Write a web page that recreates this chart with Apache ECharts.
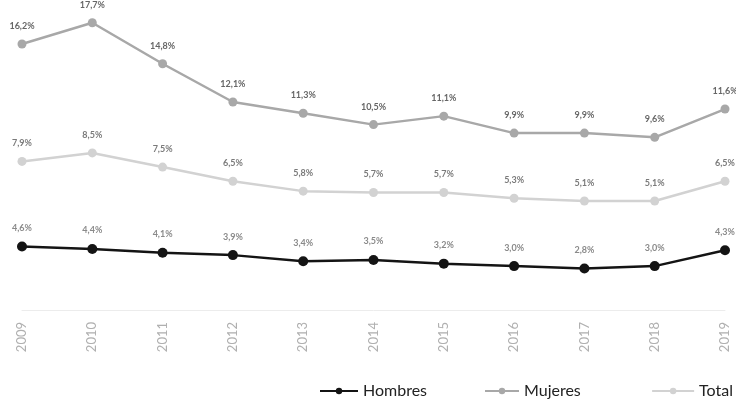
<!DOCTYPE html>
<html>
<head>
<meta charset="utf-8">
<script src="https://cdn.jsdelivr.net/npm/echarts@6/dist/echarts.min.js"></script>
<style>
  html, body { margin: 0; padding: 0; background: #fff; }
  #chart { width: 736px; height: 412px; }
</style>
</head>
<body>
<div id="chart"></div>
<script>
// datos
var years = ['2009','2010','2011','2012','2013','2014','2015','2016','2017','2018','2019'];
var hombres = [4.6, 4.4, 4.1, 3.9, 3.4, 3.5, 3.2, 3.0, 2.8, 3.0, 4.3];
var mujeres = [16.2, 17.7, 14.8, 12.1, 11.3, 10.5, 11.1, 9.9, 9.9, 9.6, 11.6];
var total = [7.9, 8.5, 7.5, 6.5, 5.8, 5.7, 5.7, 5.3, 5.1, 5.1, 6.5];

var chart = echarts.init(document.getElementById('chart'));

function pct(p) {
  return p.value.toFixed(1).replace('.', ',') + '%';
}

function serie(name, data, color, axis, size, labelColor) {
  return {
    name: name,
    type: 'line',
    yAxisIndex: axis,
    data: data,
    symbol: 'circle',
    symbolSize: size,
    lineStyle: { color: color, width: 2.5 },
    itemStyle: { color: color },
    label: {
      show: true,
      position: 'top',
      distance: 9,
      formatter: pct,
      color: labelColor,
      fontSize: 9,
      fontWeight: 'bold',
      fontFamily: 'Lato'
    }
  };
}

function leyenda(name, pos, w) {
  var l = {
    data: [name],
    bottom: 8,
    itemWidth: w,
    itemHeight: 8,
    itemGap: 4,
    textStyle: { color: '#222', fontSize: 16, fontFamily: 'Lato' }
  };
  for (var k in pos) l[k] = pos[k];
  return l;
}

var option = {
  animation: false,
  backgroundColor: '#fff',
  grid: { left: 22, right: 11, top: 10, bottom: 102 },
  legend: [
    leyenda('Hombres', { left: 314 }, 38),
    leyenda('Mujeres', { left: 479 }, 34),
    leyenda('Total', { right: -2 }, 42)
  ],
  xAxis: {
    type: 'category',
    data: years,
    boundaryGap: false,
    axisLine: { onZero: false, lineStyle: { color: '#ececec', width: 1 } },
    axisTick: { show: false },
    axisLabel: {
      rotate: 90,
      margin: 12,
      color: '#b0b0b0',
      fontSize: 13,
      fontFamily: 'Lato'
    }
  },
  yAxis: [
    { type: 'value', min: -2.6, max: 18.6, show: false, splitLine: { show: false } },
    { type: 'value', min: -0.6, max: 24, show: false, splitLine: { show: false } }
  ],
  series: [
    serie('Hombres', hombres, '#141414', 1, 10, '#8a8a8a'),
    serie('Mujeres', mujeres, '#a8a8a8', 0, 9, '#666'),
    serie('Total', total, '#d2d2d2', 0, 9, '#7a7a7a')
  ]
};

chart.setOption(option);
</script>
</body>
</html>
